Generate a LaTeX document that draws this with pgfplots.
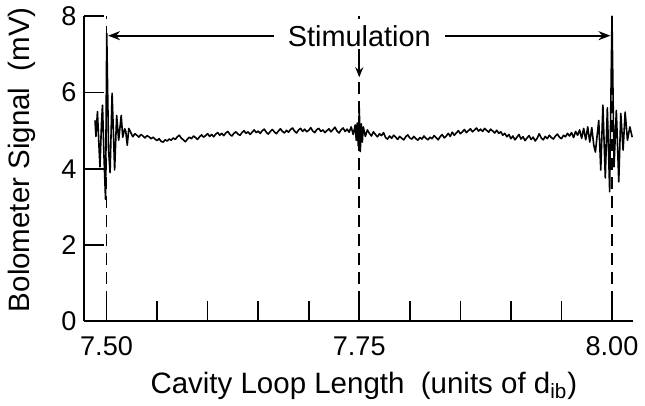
\documentclass[border=0pt]{standalone}
\usepackage{fontspec}
\setmainfont{Liberation Sans}
\usepackage{pgfplots}
\pgfplotsset{compat=1.18}
\usetikzlibrary{arrows.meta}

% bolometer trace
\pgfplotstableread{
x y
7.4886 5.27
7.4895 4.85
7.4910 5.50
7.4925 4.60
7.4935 4.05
7.4950 5.20
7.4960 5.67
7.4975 4.30
7.4990 3.20
7.5002 7.55
7.5020 4.50
7.5035 3.90
7.5055 5.98
7.5080 3.97
7.5100 5.40
7.5120 4.75
7.5145 5.40
7.5160 4.83
7.5180 5.05
7.5190 4.98
7.5205 4.62
7.5220 5.06
7.524 4.95
7.526 4.84
7.528 4.92
7.530 4.88
7.532 4.83
7.534 4.90
7.536 4.86
7.538 4.81
7.540 4.87
7.542 4.84
7.544 4.79
7.546 4.83
7.548 4.78
7.550 4.74
7.552 4.79
7.554 4.72
7.556 4.70
7.558 4.76
7.560 4.73
7.562 4.78
7.564 4.75
7.566 4.81
7.568 4.77
7.570 4.84
7.572 4.88
7.574 4.80
7.576 4.76
7.578 4.71
7.580 4.78
7.582 4.83
7.584 4.79
7.586 4.86
7.588 4.82
7.590 4.77
7.592 4.84
7.594 4.89
7.596 4.83
7.598 4.87
7.600 4.92
7.602 4.85
7.604 4.90
7.606 4.84
7.608 4.91
7.610 4.95
7.612 4.88
7.614 4.93
7.616 4.87
7.618 4.94
7.620 4.98
7.622 4.90
7.624 4.86
7.626 4.93
7.628 4.97
7.630 4.91
7.632 4.88
7.634 4.95
7.636 5.00
7.638 4.93
7.640 4.97
7.642 4.90
7.644 4.96
7.646 5.02
7.648 4.95
7.650 4.99
7.652 4.93
7.654 5.00
7.656 5.04
7.658 4.96
7.660 4.91
7.662 4.98
7.664 5.03
7.666 4.97
7.668 4.92
7.670 4.99
7.672 5.05
7.674 4.98
7.676 4.94
7.678 5.01
7.680 4.96
7.682 5.03
7.684 5.07
7.686 4.99
7.688 4.94
7.690 5.02
7.692 5.06
7.694 4.98
7.696 5.04
7.698 4.97
7.700 5.01
7.702 5.08
7.704 4.99
7.706 4.95
7.708 5.03
7.710 5.06
7.712 4.98
7.714 5.02
7.716 4.95
7.718 5.00
7.720 5.05
7.722 4.97
7.724 5.03
7.726 5.09
7.728 4.99
7.730 4.94
7.732 5.02
7.734 5.07
7.736 4.98
7.738 5.04
7.740 4.96
7.742 5.10
7.744 4.90
7.746 5.15
7.747 4.75
7.748 5.20
7.749 4.60
7.750 5.60
7.751 4.45
7.752 5.18
7.753 4.70
7.754 5.10
7.756 4.85
7.758 5.02
7.760 4.93
7.762 4.86
7.764 4.97
7.766 4.90
7.768 4.84
7.770 4.92
7.772 4.87
7.774 4.95
7.776 4.82
7.778 4.78
7.780 4.86
7.782 4.80
7.784 4.88
7.786 4.83
7.788 4.77
7.790 4.85
7.792 4.80
7.794 4.76
7.796 4.84
7.798 4.89
7.800 4.81
7.802 4.78
7.804 4.85
7.806 4.79
7.808 4.75
7.810 4.82
7.812 4.78
7.814 4.86
7.816 4.80
7.818 4.76
7.820 4.83
7.822 4.79
7.824 4.87
7.826 4.82
7.828 4.76
7.830 4.84
7.832 4.90
7.834 4.81
7.836 4.86
7.838 4.93
7.840 4.85
7.842 4.96
7.844 4.88
7.846 4.94
7.848 5.00
7.850 4.92
7.852 4.97
7.854 5.03
7.856 4.95
7.858 5.00
7.860 5.05
7.862 4.97
7.864 5.02
7.866 5.07
7.868 4.99
7.870 5.04
7.872 4.98
7.874 5.06
7.876 5.01
7.878 4.96
7.880 5.04
7.882 4.99
7.884 4.94
7.886 5.01
7.888 4.93
7.890 4.97
7.892 4.88
7.894 4.93
7.896 4.84
7.898 4.90
7.900 4.79
7.902 4.86
7.904 4.76
7.906 4.83
7.908 4.90
7.910 4.78
7.912 4.84
7.914 4.74
7.916 4.81
7.918 4.87
7.920 4.77
7.922 4.83
7.924 4.73
7.926 4.80
7.928 4.92
7.930 4.81
7.932 4.76
7.934 4.85
7.936 4.79
7.938 4.88
7.940 4.82
7.942 4.78
7.944 4.86
7.946 4.91
7.948 4.83
7.950 4.79
7.952 4.88
7.954 4.84
7.956 4.93
7.958 4.86
7.960 4.95
7.962 4.82
7.964 4.98
7.966 4.88
7.968 5.02
7.970 4.80
7.972 5.06
7.974 4.76
7.976 5.10
7.978 4.70
7.980 5.08
7.982 4.62
7.9836 4.44
7.9869 5.27
7.9889 3.97
7.9910 5.67
7.9934 3.76
7.9954 5.60
7.9977 3.40
8.0000 8.00
8.0020 4.05
8.0043 5.53
8.0067 3.66
8.0087 5.45
8.0110 4.49
8.0130 5.49
8.0153 4.75
8.0177 5.10
8.0200 4.83
}\trace

\begin{document}
\begin{tikzpicture}
\begin{axis}[
  scale only axis,
  width=275.9pt, height=153.2pt,
  xmin=7.4773, xmax=8.021,
  ymin=0, ymax=8,
  axis x line*=bottom, axis y line*=left,
  axis line style={-, line width=1pt},
  tick align=inside,
  major tick length=10pt, minor tick length=10pt,
  every tick/.style={black, line width=0.8pt},
  xtick={7.5,7.75,8.0},
  xticklabels={7.50,7.75,8.00},
  minor xtick={7.55,7.6,7.65,7.7,7.8,7.85,7.9,7.95},
  ytick={0,2,4,6,8},
  /pgf/number format/assume math mode=true,
  tick label style={font=\fontsize{13.6}{15}\selectfont},
  xticklabel style={yshift=-4pt},
  label style={font=\fontsize{14.8}{17}\selectfont},
  xlabel={Cavity Loop Length\ \ (units of d\textsubscript{ib})},
  ylabel={Bolometer Signal\ \ (mV)},
  xlabel style={at={(axis description cs:0.51,-0.21)}, anchor=center},
  ylabel style={at={(axis description cs:-0.1125,0.53)}, anchor=center},
  clip=false,
]
% marker lines
\addplot[black, line width=0.8pt, dash pattern=on 6pt off 3.5pt] coordinates {(7.5,0) (7.5,8)};
\addplot[black, line width=0.8pt, dash pattern=on 6pt off 3.5pt] coordinates {(7.75,0) (7.75,8)};
\addplot[black, line width=0.8pt, dash pattern=on 6pt off 3.5pt] coordinates {(8.0,0) (8.0,8)};

\addplot[black, line width=0.8pt, line join=round] table[x=x, y=y] {\trace};

\node[fill=white, inner sep=1.5pt, font=\fontsize{14.5}{17}\selectfont] at (axis cs:7.75,7.49) {Stimulation};
\draw[-{Stealth[length=6pt,width=4.5pt]}, line width=1pt] (axis cs:7.6655,7.49) -- (axis cs:7.5015,7.49);
\draw[-{Stealth[length=6pt,width=4.5pt]}, line width=1pt] (axis cs:7.835,7.49) -- (axis cs:7.9985,7.49);
\draw[-{Stealth[length=5pt,width=4pt]}, line width=1pt] (axis cs:7.75,7.12) -- (axis cs:7.75,6.40);

% keep the page the size of the original figure
\path (axis cs:7.3946,-2.167) rectangle (axis cs:8.030,8.407);
\end{axis}
\end{tikzpicture}
\end{document}
